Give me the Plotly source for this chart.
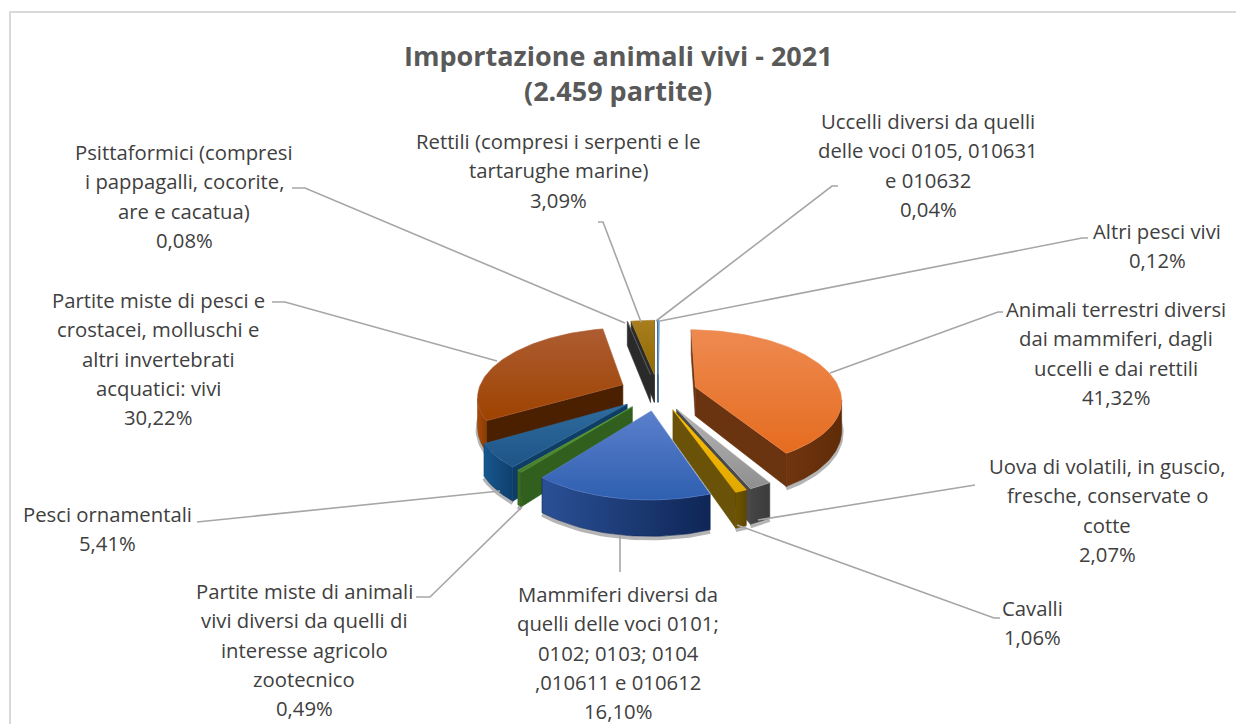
import math
import plotly.graph_objects as go

# ---- data ----
categories = [
    "Altri pesci vivi",
    "Animali terrestri diversi dai mammiferi, dagli uccelli e dai rettili",
    "Uova di volatili, in guscio, fresche, conservate o cotte",
    "Cavalli",
    "Mammiferi diversi da quelli delle voci 0101; 0102; 0103; 0104 ,010611 e 010612",
    "Partite miste di animali vivi diversi da quelli di interesse agricolo zootecnico",
    "Pesci ornamentali",
    "Partite miste di pesci e crostacei, molluschi e altri invertebrati acquatici: vivi",
    "Psittaformici (compresi i pappagalli, cocorite, are e cacatua)",
    "Rettili (compresi i serpenti e le tartarughe marine)",
    "Uccelli diversi da quelli delle voci 0105, 010631 e 010632",
]
values = [0.12, 41.32, 2.07, 1.06, 16.10, 0.49, 5.41, 30.22, 0.08, 3.09, 0.04]
label_lines = [
    ["Altri pesci vivi"],
    ["Animali terrestri diversi", "dai mammiferi, dagli", "uccelli e dai rettili"],
    ["Uova di volatili, in guscio,", "fresche, conservate o", "cotte"],
    ["Cavalli"],
    ["Mammiferi diversi da", "quelli delle voci 0101;", "0102; 0103; 0104", ",010611 e 010612"],
    ["Partite miste di animali", "vivi diversi da quelli di", "interesse agricolo", "zootecnico"],
    ["Pesci ornamentali"],
    ["Partite miste di pesci e", "crostacei, molluschi e", "altri invertebrati", "acquatici: vivi"],
    ["Psittaformici (compresi", "i pappagalli, cocorite,", "are e cacatua)"],
    ["Rettili (compresi i serpenti e le", "tartarughe marine)"],
    ["Uccelli diversi da quelli", "delle voci 0105, 010631", "e 010632"],
]
title_lines = ["Importazione animali vivi - 2021", "(2.459 partite)"]

# ---- styles (gradient pairs run bottom -> top for the faces) ----
top_colors = [
    ("#5B9BD5", "#6FA8DC"), ("#E56C1F", "#EE8A50"), ("#8F8F8F", "#B5B5B5"), ("#E0A800", "#FFC000"),
    ("#2F5FB0", "#5B80CC"), ("#467A2C", "#5F9E3A"), ("#1E5488", "#2F6C9E"), ("#9E4300", "#AD5C32"),
    ("#444444", "#636363"), ("#8F6A00", "#A87E20"), ("#264478", "#264478"),
]
rim_colors = [
    ("#3A6C96", "#3A6C96"), ("#70350F", "#5F2C08"), ("#454545", "#3C3C3C"), ("#6E5500", "#5E4800"),
    ("#2A5096", "#0F2656"), ("#3F7426", "#33601E"), ("#17588E", "#0E3F6C"), ("#A84A08", "#8A3C04"),
    ("#2A2A2A", "#2A2A2A"), ("#6E5400", "#5E4800"), ("#1A2E52", "#1A2E52"),
]
side_colors = [
    "#4C7EA8", "#6B3410", "#4A4A4A", "#6A5208", "#1F3C70", "#31601E", "#0E3D66", "#4A2000",
    "#2A2A2A", "#2A2A2A", "#1A2E52",
]
TEXT = "#404040"
FONT = "Open Sans"
LABEL_SIZE = 20.3
LEADER = "#A6A6A6"

# pie geometry
CX, CY = 658, 392
A, B, K, DEPTH, PULL = 145, 68, 0.16, 29, 0.27


def project(u, v):
    s = 1 / (1 + K * v)
    return CX + A * u * s, CY - B * v * s, s


def bottom(u, v):
    x, y, s = project(u, v)
    return x, y + DEPTH * s


fig = go.Figure()
total = sum(values)
spans = []
acc = 0.0
for val in values:
    spans.append((acc / total * 2 * math.pi, (acc + val) / total * 2 * math.pi))
    acc += val


def poly(xs, ys, colors, kind, line):
    fig.add_trace(go.Scatter(
        x=xs, y=ys, mode="lines", fill="toself", hoverinfo="skip", showlegend=False,
        line=dict(color=line, width=0.6),
        fillgradient=dict(type=kind, colorscale=[[0, colors[0]], [1, colors[1]]]),
    ))


order = sorted(range(len(values)), key=lambda i: -math.cos(sum(spans[i]) / 2))
# soft shadow under the front rim
for i in order:
    t0, t1 = spans[i]
    mid = (t0 + t1) / 2
    ox, oy = PULL * math.sin(mid), PULL * math.cos(mid)
    n = max(2, int((t1 - t0) / 0.03))
    pts = [(ox + math.sin(t0 + (t1 - t0) * j / n), oy + math.cos(t0 + (t1 - t0) * j / n)) for j in range(n + 1)]
    low = [q for q in pts if q[1] < 0.3 + oy]
    if len(low) > 1:
        b = [bottom(*q) for q in low]
        fig.add_trace(go.Scatter(
            x=[p[0] for p in b], y=[p[1] + 2 for p in b], mode="lines", hoverinfo="skip", showlegend=False,
            line=dict(color="rgba(90,90,90,0.45)", width=4),
        ))

for i in order:
    t0, t1 = spans[i]
    mid = (t0 + t1) / 2
    ox, oy = PULL * math.sin(mid), PULL * math.cos(mid)
    n = max(2, int((t1 - t0) / 0.03))
    arc = [(ox + math.sin(t0 + (t1 - t0) * j / n), oy + math.cos(t0 + (t1 - t0) * j / n)) for j in range(n + 1)]
    apex = (ox, oy)
    # radial walls
    for a_, b_ in ((apex, arc[0]), (arc[-1], apex)):
        p, q = project(*a_), project(*b_)
        if q[0] - p[0] < 0:
            pb, qb = bottom(*a_), bottom(*b_)
            fig.add_trace(go.Scatter(
                x=[p[0], q[0], qb[0], pb[0], p[0]], y=[p[1], q[1], qb[1], pb[1], p[1]],
                mode="lines", fill="toself", hoverinfo="skip", showlegend=False,
                fillcolor=side_colors[i], line=dict(color=side_colors[i], width=0.6),
            ))
    # rim wall: the stretch of arc moving leftwards on screen
    vis = [j for j in range(n) if project(*arc[j + 1])[0] < project(*arc[j])[0]]
    if vis:
        seg = arc[vis[0]: vis[-1] + 2]
        tops = [project(*q) for q in seg]
        bots = [bottom(*q) for q in seg]
        xs = [p[0] for p in tops] + [p[0] for p in reversed(bots)]
        ys = [p[1] for p in tops] + [p[1] for p in reversed(bots)]
        poly(xs + xs[:1], ys + ys[:1], rim_colors[i], "horizontal", rim_colors[i][1])
    # top face
    pts = [apex] + arc + [apex]
    proj = [project(*q) for q in pts]
    poly([p[0] for p in proj], [p[1] for p in proj], top_colors[i], "vertical", top_colors[i][1])

# ---- leader lines ----
leaders = [
    [(1088, 238), (1082, 238), (660, 321)],
    [(1003, 312), (998, 312), (830, 373)],
    [(975, 485), (758, 520)],
    [(1000, 618), (994, 618), (737, 525)],
    [(620, 535), (620, 572)],
    [(416, 597), (430, 597), (522, 507)],
    [(197, 522), (500, 491)],
    [(272, 302), (285, 302), (497, 361)],
    [(292, 188), (305, 188), (625, 323)],
    [(598, 222), (603, 222), (641, 322)],
    [(838, 186), (832, 186), (656, 321)],
]
for pts in leaders:
    fig.add_trace(go.Scatter(
        x=[p[0] for p in pts], y=[p[1] for p in pts], mode="lines", hoverinfo="skip", showlegend=False,
        line=dict(color=LEADER, width=1.6),
    ))

# ---- labels ----
label_x = [1157, 1116, 1107, 1032, 618, 304, 107, 158, 184, 558, 928]
label_y = [231, 309, 466, 608, 594, 591, 514, 300, 152, 141, 121]
LINE_GAP = 29.3
ann = []
for i, lines in enumerate(label_lines):
    pct = f"{values[i]:.2f}".replace(".", ",") + "%"
    for j, txt in enumerate(lines + [pct]):
        ann.append(dict(x=label_x[i], y=label_y[i] + j * LINE_GAP, text=txt, showarrow=False,
                        xanchor="center", yanchor="middle",
                        font=dict(family=FONT, size=LABEL_SIZE, color=TEXT)))
for j, txt in enumerate(title_lines):
    ann.append(dict(x=618, y=55 + j * 35, text=f"<b>{txt}</b>", showarrow=False, xanchor="center", yanchor="middle",
                    font=dict(family=FONT, size=27, color="#595959")))

fig.update_layout(
    width=1236, height=724, margin=dict(l=0, r=0, t=0, b=0),
    paper_bgcolor="white", plot_bgcolor="white", showlegend=False, annotations=ann,
    xaxis=dict(range=[0, 1236], visible=False, fixedrange=True),
    yaxis=dict(range=[724, 0], visible=False, fixedrange=True),
    shapes=[dict(type="rect", xref="x", yref="y", x0=10, y0=12, x1=1240, y1=730,
                 line=dict(color="#D9D9D9", width=2), layer="below")],
)
fig.write_html("out.html", config={"displayModeBar": False},
               post_script="document.body.style.margin='0';document.body.style.overflow='hidden';")
